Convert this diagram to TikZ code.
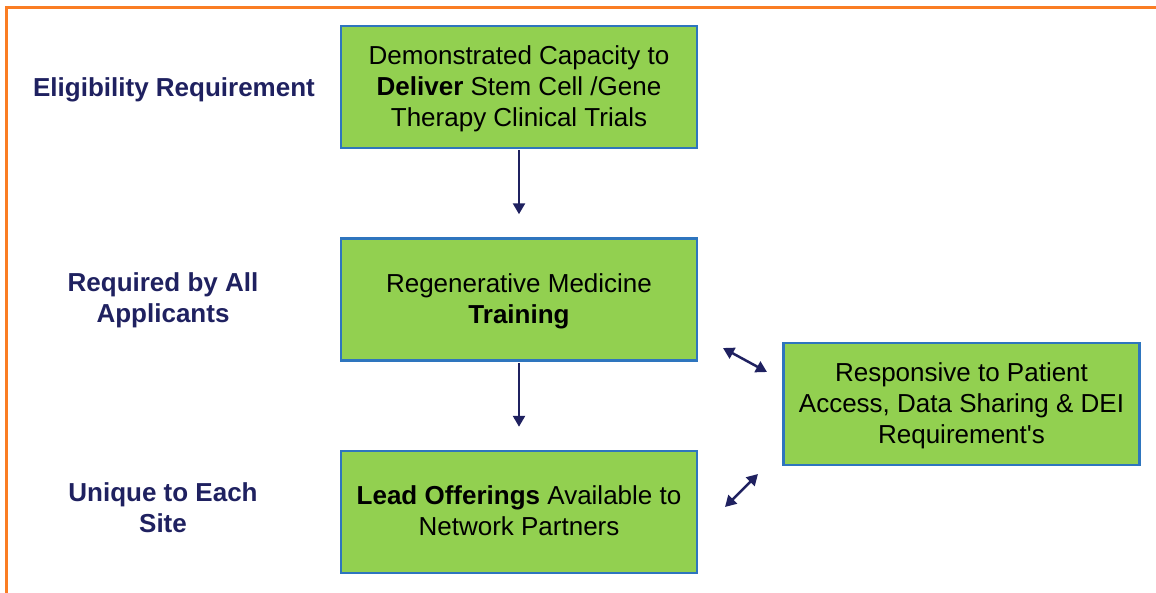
\documentclass[tikz,border=0pt]{standalone}
\usepackage{fontspec}
\setmainfont{Liberation Sans}
\usetikzlibrary{positioning}
\usetikzlibrary{arrows.meta}

\definecolor{navy}{RGB}{31,33,96}
\definecolor{leaf}{RGB}{146,208,80}
\definecolor{edgeblue}{RGB}{46,117,190}
\definecolor{rim}{RGB}{250,125,35}

\tikzset{
	stage/.style={draw=edgeblue, line width=2.5pt, fill=leaf, minimum width=356pt, minimum height=122pt, align=center, text=black, text depth=2.5pt, font=\fontsize{26}{31}\selectfont},
	tier/.style={align=center, text=navy, text depth=4.5pt, font=\fontsize{26}{31}\selectfont\bfseries},
	flow/.style={navy, line width=2.5pt, -{Triangle[length=11pt, width=12pt]}},
	link/.style={navy, line width=2.5pt, {Triangle[length=11pt, width=12pt]}-{Triangle[length=11pt, width=12pt]}}
}

\begin{document}
\begin{tikzpicture}[x=1pt, y=-1pt]
			\useasboundingbox (0, 0) rectangle (1156, 592);
			\draw[rim, line width=3pt] (6, 600)--(6, 7)--(1170, 7);
			\node[stage] (deliver) at (519, 87) {Demonstrated Capacity to\\\textbf{Deliver} Stem Cell /Gene\\Therapy Clinical Trials};
			\node[stage] (training) at (519, 299.5) {Regenerative Medicine\\\textbf{Training}};
			\node[stage] (lead) at (519, 512) {\textbf{Lead Offerings} Available to\\Network Partners};
			\node[stage] (resp) at (961.5, 404) {Responsive to Patient\\Access, Data Sharing \& DEI\\Requirement\textquotesingle s};
			\node[tier] (elig) at (174, 89) {Eligibility Requirement};
			\node[tier] (all) at (163, 300) {Required by All\\Applicants};
			\node[tier] (site) at (163, 510) {Unique to Each\\Site};
			% arrows between boxes
			\draw[flow, shorten <=1pt, shorten >=23pt] (deliver) -- (training);
			\draw[flow, shorten <=1pt, shorten >=23pt] (training) -- (lead);
			\coordinate (t1) at (723, 348);
			\coordinate (r1) at (767, 372);
			\coordinate (l1) at (725, 507);
			\coordinate (r2) at (758, 474);
			\draw[link] (t1) -- (r1);
			\draw[link] (l1) -- (r2);
		\end{tikzpicture}
\end{document}
